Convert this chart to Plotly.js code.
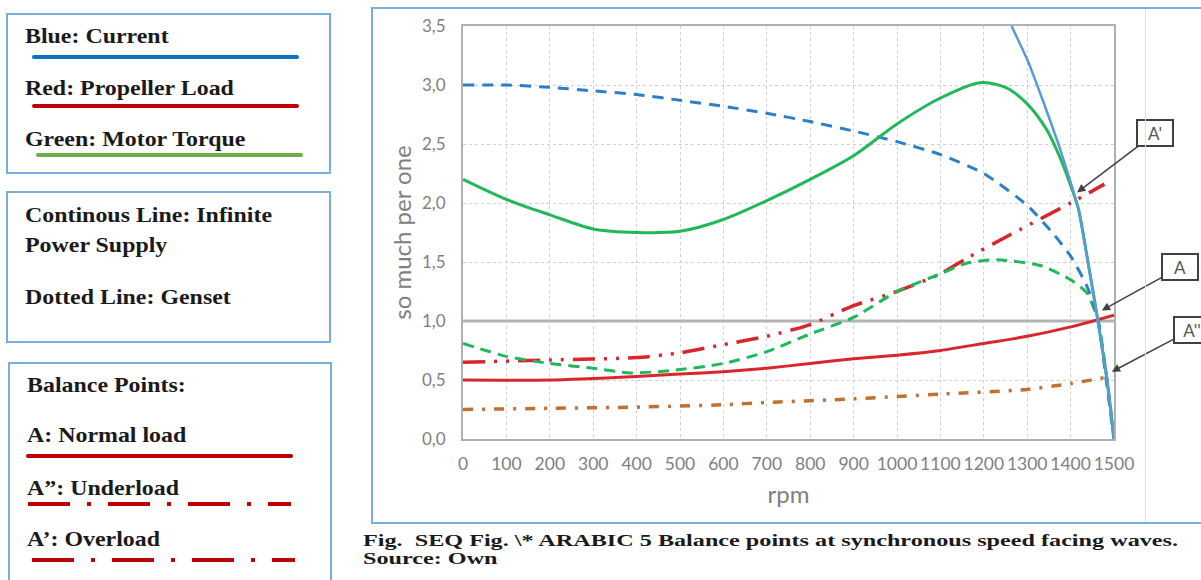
<!DOCTYPE html>
<html>
<head>
<meta charset="utf-8">
<script src="https://cdn.plot.ly/plotly-3.0.1.min.js"></script>
<style>
  html, body { margin: 0; padding: 0; background: #fff; }
  #page { position: relative; width: 1201px; height: 580px; overflow: hidden; background: #fff; }
  #chart { position: absolute; left: 0; top: 0; width: 1201px; height: 580px; }
  .box { position: absolute; border: 2px solid #7aaee0; box-sizing: border-box; }
  .t { position: absolute; font-family: "Liberation Serif", "Times New Roman", serif; font-weight: bold;
       font-size: 21px; color: #1a1a1a; white-space: nowrap; line-height: 1; transform-origin: 0 50%; }
  svg.ln { position: absolute; overflow: visible; }
  .cap { position: absolute; font-family: "Liberation Serif", "Times New Roman", serif; font-weight: bold;
       font-size: 17px; color: #1a1a1a; white-space: nowrap; line-height: 1; transform-origin: 0 50%; }
</style>
</head>
<body>
<div id="page">
  <div id="chart"></div>

  <!-- chart frame -->
  <div class="box" style="left:371px; top:7px; width:850px; height:517px; pointer-events:none;"></div>
  <div style="position:absolute; left:1145px; top:9px; width:1px; height:513px; background:#e2e2e2;"></div>

  <!-- legend box 1 -->
  <div class="box" style="left:6px; top:13px; width:325px; height:161px;"></div>
  <svg class="ln" style="left:0; top:0;" width="340" height="580">
    <line x1="34" y1="57" x2="297" y2="57" stroke="#0b72c4" stroke-width="4" stroke-linecap="round"/>
    <line x1="34" y1="106" x2="297" y2="106" stroke="#c00000" stroke-width="4" stroke-linecap="round"/>
    <line x1="38" y1="155" x2="301" y2="155" stroke="#70ad47" stroke-width="4" stroke-linecap="round"/>
    <line x1="28" y1="456" x2="291" y2="456" stroke="#c00000" stroke-width="4" stroke-linecap="round"/>
    <line x1="28" y1="504" x2="291" y2="504" stroke="#c00000" stroke-width="4" stroke-dasharray="42 17 4 17"/>
    <line x1="32" y1="560" x2="295" y2="560" stroke="#c00000" stroke-width="4" stroke-dasharray="42 17 4 17"/>
  </svg>
  <div class="t" style="left:25px; top:26px;">Blue: Current</div>
  <div class="t" style="left:25px; top:78px;">Red: Propeller Load</div>
  <div class="t" style="left:25px; top:129px;">Green: Motor Torque</div>

  <!-- legend box 2 -->
  <div class="box" style="left:6px; top:191px; width:325px; height:152px;"></div>
  <div class="t" id="refText" style="left:25px; top:205px;">Continous Line: Infinite</div>
  <div class="t" style="left:25px; top:235px;">Power Supply</div>
  <div class="t" style="left:25px; top:287px;">Dotted Line: Genset</div>

  <!-- legend box 3 -->
  <div class="box" style="left:8px; top:362px; width:324px; height:240px;"></div>
  <div class="t" style="left:27px; top:375px;">Balance Points:</div>
  <div class="t" style="left:27px; top:425px;">A: Normal load</div>
  <div class="t" style="left:27px; top:478px;">A”: Underload</div>
  <div class="t" style="left:27px; top:529px;">A’: Overload</div>

  <!-- caption -->
  <div class="cap" id="capText" style="left:363px; top:532px;">Fig.&nbsp; SEQ Fig. \* ARABIC 5 Balance points at synchronous speed facing waves.</div>
  <div class="cap" style="left:363px; top:550px;">Source: Own</div>
</div>

<script>
// ---- data ----
const rpmTicks = [0,100,200,300,400,500,600,700,800,900,1000,1100,1200,1300,1400,1500];
const yTickVals = [0,0.5,1,1.5,2,2.5,3,3.5];
const yTickText = ["0,0","0,5","1,0","1,5","2,0","2,5","3,0","3,5"];

// Blue solid: current, infinite power supply
const currentGridRpm = [1264,1302,1337,1372,1398,1418,1440,1463,1484,1500];
const currentGridVal = [3.5,3.2,2.86,2.5,2.2,1.95,1.5,1.0,0.5,0.0];

// Blue dashed: current, genset
const currentGensetRpm = [0,100,200,300,400,500,600,700,800,900,1000,1100,1200,1300,1360,1400,1437,1461,1482,1500];
const currentGensetVal = [3.0,3.0,2.98,2.95,2.92,2.87,2.82,2.76,2.69,2.61,2.52,2.41,2.25,1.98,1.74,1.55,1.3,1.05,0.5,0.0];

// Green solid: motor torque, infinite power supply
const torqueGridRpm = [0,100,200,300,400,500,600,700,800,900,1000,1100,1191,1250,1300,1345,1375,1398,1418,1440,1463,1484,1500];
const torqueGridVal = [2.2,2.03,1.9,1.78,1.75,1.76,1.86,2.02,2.2,2.4,2.67,2.89,3.02,2.98,2.84,2.62,2.39,2.17,1.95,1.5,1.0,0.5,0.0];

// Green dashed: motor torque, genset
const torqueGensetRpm = [0,100,200,300,385,480,600,700,800,900,1000,1100,1160,1230,1330,1400,1437,1463,1484,1500];
const torqueGensetVal = [0.81,0.7,0.64,0.6,0.56,0.58,0.64,0.74,0.89,1.03,1.25,1.4,1.49,1.52,1.47,1.35,1.24,1.01,0.5,0.0];

// Red solid: propeller load, normal
const loadNormalRpm = [0,200,400,500,600,700,800,900,1000,1100,1200,1300,1400,1500];
const loadNormalVal = [0.5,0.5,0.53,0.55,0.57,0.6,0.64,0.68,0.71,0.75,0.81,0.87,0.95,1.05];

// Red dash-dot-dot: propeller load, overload
const loadOverRpm = [0,200,400,500,600,700,800,900,1000,1100,1160,1250,1400,1478];
const loadOverVal = [0.65,0.67,0.69,0.73,0.8,0.87,0.97,1.13,1.25,1.4,1.53,1.71,2.0,2.16];

// Brown dash-dot: propeller load, underload
const loadUnderRpm = [0,200,400,600,700,900,1100,1300,1400,1478];
const loadUnderVal = [0.25,0.26,0.27,0.29,0.31,0.34,0.38,0.42,0.47,0.52];

// Grey reference at 1 p.u.
const refRpm = [0,1500];
const refVal = [1,1];

// Balance points (arrow tips)
const pointLabels = ["A'","A","A''"];
const pointRpm = [1415,1472,1495];
const pointVal = [2.09,1.09,0.57];

// ---- traces ----
const sp = {shape:'spline', smoothing:0.6};
const traces = [
  {x: refRpm, y: refVal, mode:'lines', line:{color:'#b3b3b3', width:3}, hoverinfo:'skip'},
  {x: loadUnderRpm, y: loadUnderVal, mode:'lines', line:Object.assign({color:'#c0702f', width:3.5, dash:'10px,9px,3px,9px'}, sp)},
  {x: loadNormalRpm, y: loadNormalVal, mode:'lines', line:Object.assign({color:'#d9262c', width:3}, sp)},
  {x: loadOverRpm, y: loadOverVal, mode:'lines', line:Object.assign({color:'#d9262c', width:3.5, dash:'22px,9px,3px,9px,3px,9px'}, sp)},
  {x: torqueGensetRpm, y: torqueGensetVal, mode:'lines', line:Object.assign({color:'#1fb85a', width:3, dash:'11px,7px'}, sp)},
  {x: currentGensetRpm, y: currentGensetVal, mode:'lines', line:Object.assign({color:'#2b7fc8', width:3, dash:'11px,8px'}, sp)},
  {x: torqueGridRpm, y: torqueGridVal, mode:'lines', line:{color:'#1fb85a', width:3, shape:'spline', smoothing:0.8}},
  {x: currentGridRpm, y: currentGridVal, mode:'lines', line:{color:'#5b9bd5', width:2.5, shape:'spline', smoothing:0.4}}
];

const annOffsets = [[78,-59],[78,-43],[80,-42]];
const annotations = pointLabels.map((lab, i) => ({
  x: pointRpm[i], y: pointVal[i], xref:'x', yref:'y',
  text: lab, showarrow: true, ax: annOffsets[i][0], ay: annOffsets[i][1],
  width: 30, height: 20,
  arrowhead: 2, arrowsize: 1.1, arrowwidth: 1.5, arrowcolor: '#404040',
  bordercolor: '#404040', borderwidth: 2, borderpad: 2, bgcolor: '#ffffff',
  font: {family: 'Lato, "Liberation Sans", sans-serif', size: 17, color: '#555555'}
}));

const layout = {
  width: 1201, height: 580,
  margin: {l: 463, r: 87, t: 26, b: 141},
  paper_bgcolor: 'rgba(0,0,0,0)', plot_bgcolor: '#ffffff',
  showlegend: false,
  font: {family: 'Lato, "Liberation Sans", sans-serif', color: '#808080', size: 17},
  xaxis: {
    range: [0,1500], tickvals: rpmTicks, ticktext: rpmTicks.map(String),
    showgrid: true, gridcolor: '#cfcfcf', griddash: 'dot', gridwidth: 1,
    showline: true, mirror: true, linecolor: '#b0b0b0', linewidth: 2,
    ticks: '', zeroline: false, ticklabelstandoff: 8, tickangle: 0,
    tickfont: {size: 17.5, color: '#808080'},
    title: {text: 'rpm', font: {size: 24, color: '#808080'}, standoff: 13}
  },
  yaxis: {
    range: [0,3.5], tickvals: yTickVals, ticktext: yTickText,
    showgrid: true, gridcolor: '#cfcfcf', griddash: 'dot', gridwidth: 1,
    showline: true, mirror: true, linecolor: '#b0b0b0', linewidth: 2,
    ticks: '', zeroline: false, ticklabelstandoff: 12,
    tickfont: {size: 17, color: '#808080'},
    title: {text: 'so much per one', font: {size: 24, color: '#808080'}, standoff: 4}
  },
  annotations: annotations
};

Plotly.newPlot('chart', traces, layout, {displayModeBar: false, staticPlot: true});

// stretch the serif texts horizontally to the widths seen in the reference
function fitTexts() {
  const ref = document.getElementById('refText');
  const k = 247 / ref.getBoundingClientRect().width;
  document.querySelectorAll('.t').forEach(el => { el.style.transform = 'scaleX(' + k + ')'; });
  const cap = document.getElementById('capText');
  const kc = 815 / cap.getBoundingClientRect().width;
  document.querySelectorAll('.cap').forEach(el => { el.style.transform = 'scaleX(' + kc + ')'; });
}
if (document.fonts && document.fonts.ready) { document.fonts.ready.then(fitTexts); } else { fitTexts(); }
</script>
</body>
</html>
